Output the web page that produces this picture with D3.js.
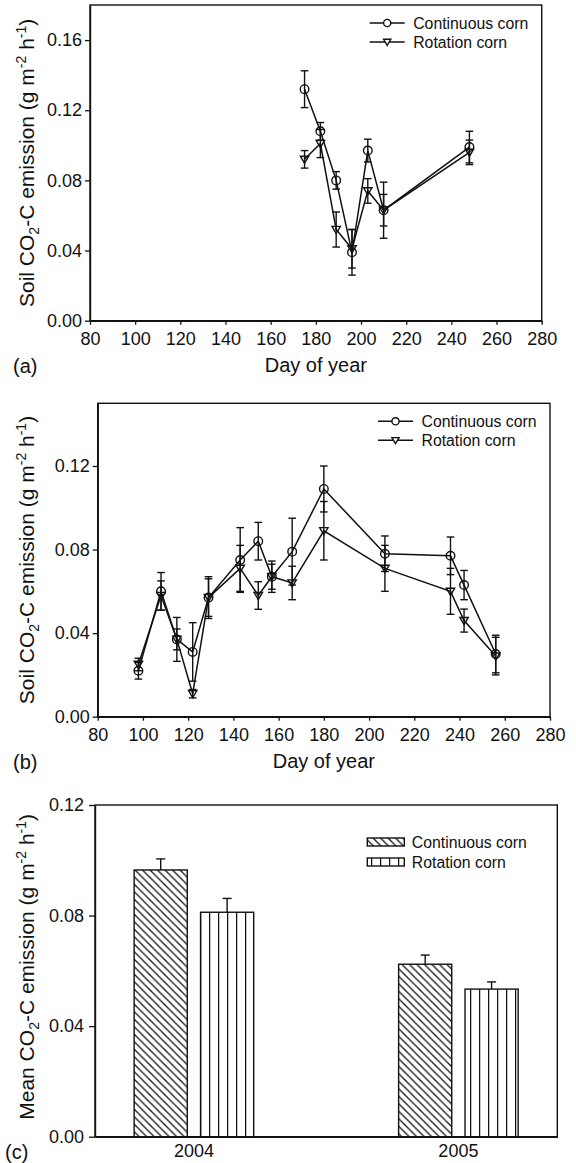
<!DOCTYPE html>
<html>
<head>
<meta charset="utf-8">
<script src="https://cdn.jsdelivr.net/npm/d3@7"></script>
<style>
  body { margin: 0; background: #fff; }
  text { font-family: "Liberation Sans", Arial, sans-serif; fill: #111; }
</style>
</head>
<body>
<script>
// panel (a): 2004 daily fluxes
var daysA = [175, 182, 189, 196, 203, 210, 248]
var contA = [0.132, 0.108, 0.080, 0.039, 0.097, 0.063, 0.099]
var contAErr = [0.0105, 0.005, 0.005, 0.013, 0.0065, 0.016, 0.009]
var rotA = [0.092, 0.101, 0.052, 0.041, 0.074, 0.063, 0.096]
var rotAErr = [0.005, 0.008, 0.010, 0.011, 0.007, 0.009, 0.007]

// panel (b): 2005 daily fluxes
var daysB = [98, 108, 115, 122, 129, 143, 151, 157, 166, 180, 207, 236, 242, 256]
var contB = [0.022, 0.060, 0.037, 0.031, 0.057, 0.075, 0.084, 0.067, 0.079, 0.109, 0.078, 0.077, 0.063, 0.030]
var contBErr = [0.004, 0.009, 0.0105, 0.014, 0.009, 0.0155, 0.009, 0.0075, 0.016, 0.011, 0.0085, 0.009, 0.007, 0.009]
var rotB = [0.025, 0.058, 0.037, 0.011, 0.057, 0.071, 0.058, 0.067, 0.064, 0.089, 0.071, 0.060, 0.046, 0.029]
var rotBErr = [0.003, 0.007, 0.005, 0.002, 0.010, 0.011, 0.0066, 0.006, 0.008, 0.014, 0.011, 0.011, 0.0055, 0.009]

// panel (c): seasonal means
var years = ['2004', '2005']
var contC = [0.0965, 0.0624]
var contCErr = [0.004, 0.0033]
var rotC = [0.0812, 0.0534]
var rotCErr = [0.005, 0.0026]

var seriesNames = ['Continuous corn', 'Rotation corn']
var dayTicks = [80, 100, 120, 140, 160, 180, 200, 220, 240, 260, 280]

var svg = d3.select('body').append('svg')
    .attr('width', 576)
    .attr('height', 1163)

var defs = svg.append('defs')
var diag = defs.append('pattern')
    .attr('id', 'diag')
    .attr('patternUnits', 'userSpaceOnUse')
    .attr('width', 7.5).attr('height', 7.5)
diag.append('rect').attr('width', 7.5).attr('height', 7.5).attr('fill', '#fff')
diag.append('path')
    .attr('d', 'M-1,-1 L8.5,8.5 M-1,6.5 L1,8.5 M6.5,-1 L8.5,1')
    .attr('stroke', '#111').attr('stroke-width', 1.3)
var vert = defs.append('pattern')
    .attr('id', 'vert')
    .attr('patternUnits', 'userSpaceOnUse')
    .attr('x', 2)
    .attr('width', 9).attr('height', 9)
vert.append('rect').attr('width', 9).attr('height', 9).attr('fill', '#fff')
vert.append('line')
    .attr('x1', 0.6).attr('x2', 0.6).attr('y1', 0).attr('y2', 9)
    .attr('stroke', '#111').attr('stroke-width', 1.3)

function yTitle(g, x, y, first) {
    var t = g.append('text')
        .attr('transform', 'translate(' + x + ',' + y + ') rotate(-90)')
        .attr('text-anchor', 'middle')
        .style('font-size', '21px')
    t.append('tspan').text(first + ' CO')
    t.append('tspan').attr('dy', 5).style('font-size', '14px').text('2')
    t.append('tspan').attr('dy', -5).text('-C emission (g m')
    t.append('tspan').attr('dy', -8).style('font-size', '14px').text('-2')
    t.append('tspan').attr('dy', 8).text(' h')
    t.append('tspan').attr('dy', -8).style('font-size', '14px').text('-1')
    t.append('tspan').attr('dy', 8).text(')')
}

function styleAxis(g) {
    g.select('.domain').attr('stroke', '#111').attr('stroke-width', 1.4)
    g.selectAll('.tick line').attr('stroke', '#111').attr('stroke-width', 1.3)
    g.selectAll('.tick text').style('font-size', '18px').attr('fill', '#111')
}

function trianglePath(s) {
    return 'M' + (-s) + ',' + (-s * 0.75) + ' L' + s + ',' + (-s * 0.75) + ' L0,' + (s * 0.95) + ' Z'
}

function drawLinePanel(box, days, cont, contErr, rot, rotErr, yMax, yTicks, tag) {
    var g = svg.append('g')
    var x = d3.scaleLinear().domain([80, 280]).range([box.left, box.right])
    var y = d3.scaleLinear().domain([0, yMax]).range([box.bottom, box.top])

    g.append('rect')
        .attr('x', box.left).attr('y', box.top)
        .attr('width', box.right - box.left).attr('height', box.bottom - box.top)
        .attr('fill', 'none').attr('stroke', '#111').attr('stroke-width', 1.4)

    var ax = g.append('g').attr('transform', 'translate(0,' + box.bottom + ')')
        .call(d3.axisBottom(x).tickValues(dayTicks).tickSize(4).tickSizeOuter(0).tickPadding(8))
    styleAxis(ax)
    var ay = g.append('g').attr('transform', 'translate(' + box.left + ',0)')
        .call(d3.axisLeft(y).tickValues(yTicks).tickFormat(d3.format('.2f')).tickSize(5).tickSizeOuter(0).tickPadding(3))
    styleAxis(ay)

    g.append('text')
        .attr('x', (box.left + box.right) / 2).attr('y', box.bottom + 51)
        .attr('text-anchor', 'middle').style('font-size', '20px')
        .text('Day of year')
    g.append('text')
        .attr('x', 13).attr('y', box.bottom + 52)
        .style('font-size', '20px')
        .text(tag)
    yTitle(g, 34, (box.top + box.bottom) / 2, 'Soil')

    var series = [
        {vals: cont, err: contErr, shape: 'circle'},
        {vals: rot, err: rotErr, shape: 'tri'}
    ]
    var line = d3.line()
        .x(function (d) { return x(d.day) })
        .y(function (d) { return y(d.v) })

    series.forEach(function (s) {
        var pts = days.map(function (d, i) { return {day: d, v: s.vals[i], e: s.err[i]} })
        s.pts = pts
        g.append('path').datum(pts)
            .attr('d', line)
            .attr('fill', 'none').attr('stroke', '#111').attr('stroke-width', 1.5)
        var eb = g.append('g').selectAll('g').data(pts).enter().append('g')
        eb.append('line')
            .attr('x1', function (d) { return x(d.day) }).attr('x2', function (d) { return x(d.day) })
            .attr('y1', function (d) { return y(d.v + d.e) }).attr('y2', function (d) { return y(d.v - d.e) })
            .attr('stroke', '#111').attr('stroke-width', 1.4)
        ;[1, -1].forEach(function (sign) {
            eb.append('line')
                .attr('x1', function (d) { return x(d.day) - 3.8 }).attr('x2', function (d) { return x(d.day) + 3.8 })
                .attr('y1', function (d) { return y(d.v + sign * d.e) }).attr('y2', function (d) { return y(d.v + sign * d.e) })
                .attr('stroke', '#111').attr('stroke-width', 1.4)
        })
    })
    series.forEach(function (s) {
        var m = g.append('g').selectAll('.m').data(s.pts).enter()
        if (s.shape === 'circle') {
            m.append('circle')
                .attr('cx', function (d) { return x(d.day) }).attr('cy', function (d) { return y(d.v) })
                .attr('r', 4.3)
                .attr('fill', 'none').attr('stroke', '#111').attr('stroke-width', 1.4)
        } else {
            m.append('path')
                .attr('transform', function (d) { return 'translate(' + x(d.day) + ',' + y(d.v) + ')' })
                .attr('d', trianglePath(4.2))
                .attr('fill', 'none').attr('stroke', '#111').attr('stroke-width', 1.4)
        }
    })

    // legend
    var lg = g.append('g')
    seriesNames.forEach(function (name, i) {
        var ly = box.top + 18 + i * 19
        lg.append('line')
            .attr('x1', box.right - 172).attr('x2', box.right - 137)
            .attr('y1', ly).attr('y2', ly)
            .attr('stroke', '#111').attr('stroke-width', 1.5)
        if (i === 0) {
            lg.append('circle').attr('cx', box.right - 154.5).attr('cy', ly).attr('r', 3.6)
                .attr('fill', '#fff').attr('stroke', '#111').attr('stroke-width', 1.4)
        } else {
            lg.append('path').attr('transform', 'translate(' + (box.right - 154.5) + ',' + ly + ')')
                .attr('d', trianglePath(3.6))
                .attr('fill', '#fff').attr('stroke', '#111').attr('stroke-width', 1.4)
        }
        lg.append('text')
            .attr('x', box.right - 128.5).attr('y', ly).attr('dy', '0.36em')
            .style('font-size', '15.8px')
            .text(name)
    })
}

drawLinePanel({left: 90, top: 5, right: 541.7, bottom: 320.7},
    daysA, contA, contAErr, rotA, rotAErr, 0.18, [0, 0.04, 0.08, 0.12, 0.16], '(a)')
drawLinePanel({left: 97.7, top: 403.3, right: 550, bottom: 716.7},
    daysB, contB, contBErr, rotB, rotBErr, 0.15, [0, 0.04, 0.08, 0.12], '(b)')

// panel (c)
var boxC = {left: 95, top: 805, right: 557.3, bottom: 1136.7}
var gc = svg.append('g')
var xc = d3.scaleBand().domain(years).range([boxC.left, boxC.right])
    .paddingInner(0.548).paddingOuter(0.148)
var xs = d3.scaleBand().domain(seriesNames).range([0, xc.bandwidth()]).paddingInner(0.2)
var yc = d3.scaleLinear().domain([0, 0.12]).range([boxC.bottom, boxC.top])

gc.append('rect')
    .attr('x', boxC.left).attr('y', boxC.top)
    .attr('width', boxC.right - boxC.left).attr('height', boxC.bottom - boxC.top)
    .attr('fill', 'none').attr('stroke', '#111').attr('stroke-width', 1.4)

var ayc = gc.append('g').attr('transform', 'translate(' + boxC.left + ',0)')
    .call(d3.axisLeft(yc).tickValues([0, 0.04, 0.08, 0.12]).tickFormat(d3.format('.2f')).tickSize(6).tickSizeOuter(0).tickPadding(5))
styleAxis(ayc)
var axc = gc.append('g').attr('transform', 'translate(0,' + boxC.bottom + ')')
    .call(d3.axisBottom(xc).tickSize(0).tickSizeOuter(0).tickPadding(8))
styleAxis(axc)

var barData = []
years.forEach(function (yr, i) {
    barData.push({year: yr, name: seriesNames[0], v: contC[i], e: contCErr[i], fill: 'url(#diag)'})
    barData.push({year: yr, name: seriesNames[1], v: rotC[i], e: rotCErr[i], fill: 'url(#vert)'})
})
var bars = gc.append('g').selectAll('g').data(barData).enter().append('g')
bars.append('line')
    .attr('x1', function (d) { return xc(d.year) + xs(d.name) + xs.bandwidth() / 2 })
    .attr('x2', function (d) { return xc(d.year) + xs(d.name) + xs.bandwidth() / 2 })
    .attr('y1', function (d) { return yc(d.v) }).attr('y2', function (d) { return yc(d.v + d.e) })
    .attr('stroke', '#111').attr('stroke-width', 1.4)
bars.append('line')
    .attr('x1', function (d) { return xc(d.year) + xs(d.name) + xs.bandwidth() / 2 - 4.5 })
    .attr('x2', function (d) { return xc(d.year) + xs(d.name) + xs.bandwidth() / 2 + 4.5 })
    .attr('y1', function (d) { return yc(d.v + d.e) }).attr('y2', function (d) { return yc(d.v + d.e) })
    .attr('stroke', '#111').attr('stroke-width', 1.4)
bars.append('rect')
    .attr('x', function (d) { return xc(d.year) + xs(d.name) })
    .attr('y', function (d) { return yc(d.v) })
    .attr('width', xs.bandwidth())
    .attr('height', function (d) { return yc(0) - yc(d.v) })
    .attr('fill', function (d) { return d.fill })
    .attr('stroke', '#111').attr('stroke-width', 1.4)

yTitle(gc, 34, (boxC.top + boxC.bottom) / 2 - 4, 'Mean')
gc.append('text').attr('x', 5).attr('y', 1159).style('font-size', '20px').text('(c)')

var lgc = gc.append('g')
;[['url(#diag)', seriesNames[0]], ['url(#vert)', seriesNames[1]]].forEach(function (p, i) {
    var ly = boxC.top + 37 + i * 20
    lgc.append('rect')
        .attr('x', boxC.right - 190).attr('y', ly - 4)
        .attr('width', 37).attr('height', 8)
        .attr('fill', p[0]).attr('stroke', '#111').attr('stroke-width', 1.4)
    lgc.append('text')
        .attr('x', boxC.right - 145.5).attr('y', ly).attr('dy', '0.36em')
        .style('font-size', '15.8px')
        .text(p[1])
})
</script>
</body>
</html>
